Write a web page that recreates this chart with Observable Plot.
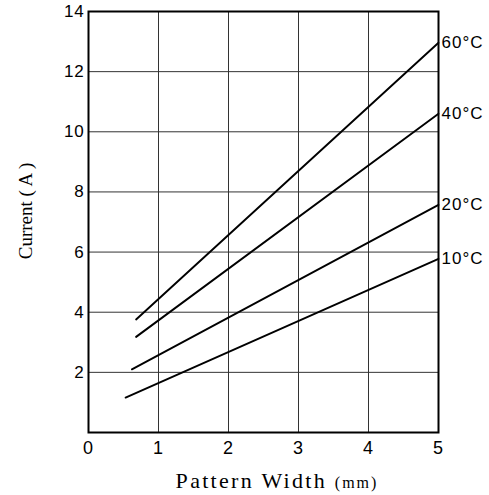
<!DOCTYPE html>
<html>
<head>
<meta charset="utf-8">
<script src="https://cdn.jsdelivr.net/npm/d3@7"></script>
<script src="https://cdn.jsdelivr.net/npm/@observablehq/plot@0.6"></script>
<style>
  html, body { margin: 0; padding: 0; background: #fff; }
  svg { display: block; }
</style>
</head>
<body>
<div id="chart"></div>
<script>
const series = ["10°C", "20°C", "40°C", "60°C"];
const xStart = [0.53, 0.62, 0.68, 0.68];
const yStart = [1.16, 2.10, 3.18, 3.76];
const xEnd = [5, 5, 5, 5];
const yEnd = [5.77, 7.57, 10.60, 12.96];
const xTicks = [0, 1, 2, 3, 4, 5];
const yTicks = [2, 4, 6, 8, 10, 12, 14];
const xGrid = [1, 2, 3, 4];
const yGrid = [2, 4, 6, 8, 10, 12];
const xTitle = "Pattern Width";
const xUnit = "(mm)";
const yTitle = "Current ( A )";

const pts = [];
series.forEach((s, i) => {
  pts.push({s, x: xStart[i], y: yStart[i]});
  pts.push({s, x: xEnd[i], y: yEnd[i]});
});
const ends = series.map((s, i) => ({s, x: xEnd[i], y: yEnd[i]}));

const plot = Plot.plot({
  width: 489,
  height: 495,
  marginLeft: 88,
  marginRight: 51,
  marginTop: 11,
  marginBottom: 63,
  style: {fontFamily: "'Liberation Sans', Arial, sans-serif", fontSize: "17px", background: "#fff", color: "#000"},
  x: {domain: [0, 5]},
  y: {domain: [0, 14]},
  marks: [
    Plot.ruleX(xGrid, {stroke: "#333", strokeWidth: 1}),
    Plot.ruleY(yGrid, {stroke: "#333", strokeWidth: 1}),
    Plot.line(pts, {x: "x", y: "y", z: "s", stroke: "#000", strokeWidth: 1.9}),
    Plot.text(ends, {x: "x", y: "y", text: "s", textAnchor: "start", dx: 3, fontSize: 17, fill: "#000"}),
    Plot.frame({stroke: "#000", strokeWidth: 2}),
    Plot.axisX(xTicks, {tickSize: 0, tickPadding: 9, label: null, fontSize: 18}),
    Plot.axisY(yTicks, {tickSize: 0, tickPadding: 4, label: null, fontSize: 17})
  ]
});

document.getElementById("chart").appendChild(plot);

const svg = d3.select(plot);
svg.selectAll("text").filter(function() { return this.textContent.includes("°C"); })
  .attr("letter-spacing", 1);
svg.selectAll("[aria-label='x-axis tick label'] text, [aria-label='y-axis tick label'] text")
  .attr("letter-spacing", 0.8);

const xt = svg.append("text")
  .attr("x", 277).attr("y", 488)
  .attr("text-anchor", "middle")
  .attr("font-family", "'Liberation Serif', 'Times New Roman', serif")
  .attr("font-size", 22)
  .attr("letter-spacing", 2.3)
  .attr("fill", "#000");
xt.append("tspan").text(xTitle + " ");
xt.append("tspan").attr("font-size", 16).attr("letter-spacing", 2).text(xUnit);

svg.append("text")
  .attr("transform", "translate(32,211) rotate(-90)")
  .attr("text-anchor", "middle")
  .attr("font-family", "'Liberation Serif', 'Times New Roman', serif")
  .attr("font-size", 19)
  .attr("fill", "#000")
  .text(yTitle);
</script>
</body>
</html>
